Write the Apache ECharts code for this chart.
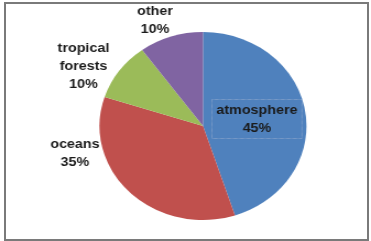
<!DOCTYPE html>
<html>
<head>
<meta charset="utf-8">
<script src="https://cdn.jsdelivr.net/npm/echarts@6/dist/echarts.min.js"></script>
<style>
  html, body { margin: 0; padding: 0; background: #fff; overflow: hidden; }
  #frame { position: absolute; left: 4px; top: 2px; width: 361px; height: 235px; border: 2px solid #7a7a7a; box-sizing: content-box; }
  #chart { position: absolute; left: 0; top: 0; width: 337px; height: 241px; transform: scaleX(1.1009); transform-origin: 0 0; }
</style>
</head>
<body>
<div id="chart"></div>
<div id="frame"></div>
<script>
const categories = ['atmosphere', 'oceans', 'tropical forests', 'other'];
const values = [45, 35, 10, 10];
const colors = ['#4F81BD', '#C0504D', '#9BBB59', '#8064A2'];

// label anchor positions (unscaled px), style only
const labelPos = [[233.4, 119], [68.1, 153], [75.8, 66.5], [140.8, 20]];

const chart = echarts.init(document.getElementById('chart'), null, { renderer: 'canvas' });
chart.setOption({
  animation: false,
  series: [{
    type: 'pie',
    center: [184.4, 126],
    radius: 94,
    startAngle: 90,
    clockwise: true,
    avoidLabelOverlap: false,
    data: categories.map((c, i) => ({
      name: c,
      value: values[i],
      itemStyle: { color: colors[i] },
      label: i === 0 ? {
        borderColor: '#b8c2d6', borderWidth: 0.6, borderType: 'dotted', padding: [2, 4, 1, 4]
      } : {}
    })),
    itemStyle: { borderWidth: 0 },
    label: {
      show: true,
      position: 'outside',
      formatter: p => p.name.replace(' ', '\n') + '\n' + p.value + '%',
      fontFamily: 'Liberation Sans, Arial, sans-serif',
      fontWeight: 'bold',
      fontSize: 13,
      lineHeight: 18,
      color: '#1a1a1a',
      align: 'center'
    },
    labelLine: { show: false },
    labelLayout: p => ({
      x: labelPos[p.dataIndex][0],
      y: labelPos[p.dataIndex][1],
      align: 'center',
      verticalAlign: 'middle'
    })
  }]
});
</script>
</body>
</html>
